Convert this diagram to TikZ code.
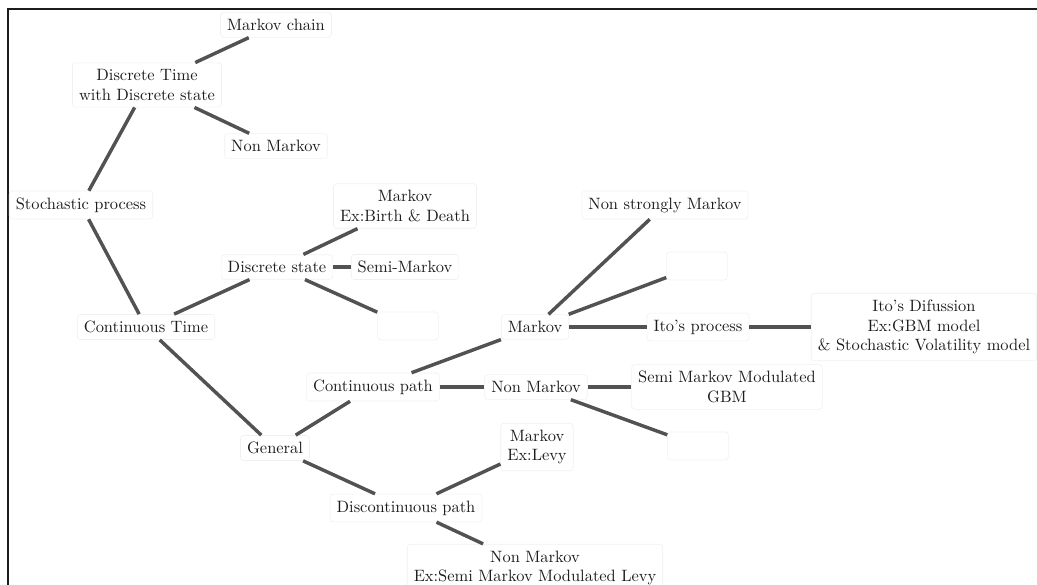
\documentclass[tikz,border=0pt]{standalone}
\usepackage{xcolor}
\definecolor{Ink}{HTML}{1C1C1C}
\definecolor{Wire}{HTML}{525252}
\definecolor{Haze}{HTML}{F0F0F0}
\usepackage{tikz}
\begin{document}
\begin{tikzpicture}[x=0.0214cm,y=-0.0214cm,every node/.style={align=center,text=Ink,inner sep=4pt,draw=Haze,rounded corners=2pt},blank/.style={minimum width=13mm,minimum height=6mm},link/.style={Wire,line width=2.1pt}]
\useasboundingbox (0,0) rectangle (1037,585);
\draw[Ink,line width=1.6pt] (1037,9)--(8,9)--(8,585);
\node (sp) at (81,205) {Stochastic process};
\node (dtds) at (147,85) {Discrete Time\\with Discrete state};
\node (mc) at (276,25) {Markov chain};
\node (nm1) at (276,146) {Non Markov};
\node (ct) at (146,327) {Continuous Time};
\node (ds) at (277,267) {Discrete state};
\node (mbd) at (405,206) {Markov\\Ex:Birth \& Death};
\node (smk) at (405,267) {Semi-Markov};
\node[blank] (e1) at (408,326) {};
\node (gen) at (275,448) {General};
\node (cp) at (373,387) {Continuous path};
\node (dp) at (406,508) {Discontinuous path};
\node (mk) at (535,327) {Markov};
\node (nm2) at (536,387) {Non Markov};
\node (ml) at (537,447) {Markov\\Ex:Levy};
\node (nml) at (535,568) {Non Markov\\Ex:Semi Markov Modulated Levy};
\node (nsm) at (665,205) {Non strongly Markov};
\node[blank] (e2) at (697,266) {};
\node (ito) at (698,327) {Ito's process};
\node (itod) at (924,327) {Ito's Difussion\\Ex:GBM model\\\& Stochastic Volatility model};
\node (smm) at (727,387) {Semi Markov Modulated\\GBM};
\node[blank] (e3) at (698,446) {};
\draw[link] (sp)--(dtds);
\draw[link] (sp)--(ct);
\draw[link] (dtds)--(mc);
\draw[link] (dtds)--(nm1);
\draw[link] (ct)--(ds);
\draw[link] (ct)--(gen);
\draw[link] (ds)--(mbd);
\draw[link] (ds)--(smk);
\draw[link] (ds)--(e1);
\draw[link] (gen)--(cp);
\draw[link] (gen)--(dp);
\draw[link] (cp)--(mk);
\draw[link] (cp)--(nm2);
\draw[link] (dp)--(ml);
\draw[link] (dp)--(nml);
\draw[link] (mk)--(nsm);
\draw[link] (mk)--(e2);
\draw[link] (mk)--(ito);
\draw[link] (ito)--(itod);
\draw[link] (nm2)--(smm);
\draw[link] (nm2)--(e3);
\end{tikzpicture}
\end{document}
